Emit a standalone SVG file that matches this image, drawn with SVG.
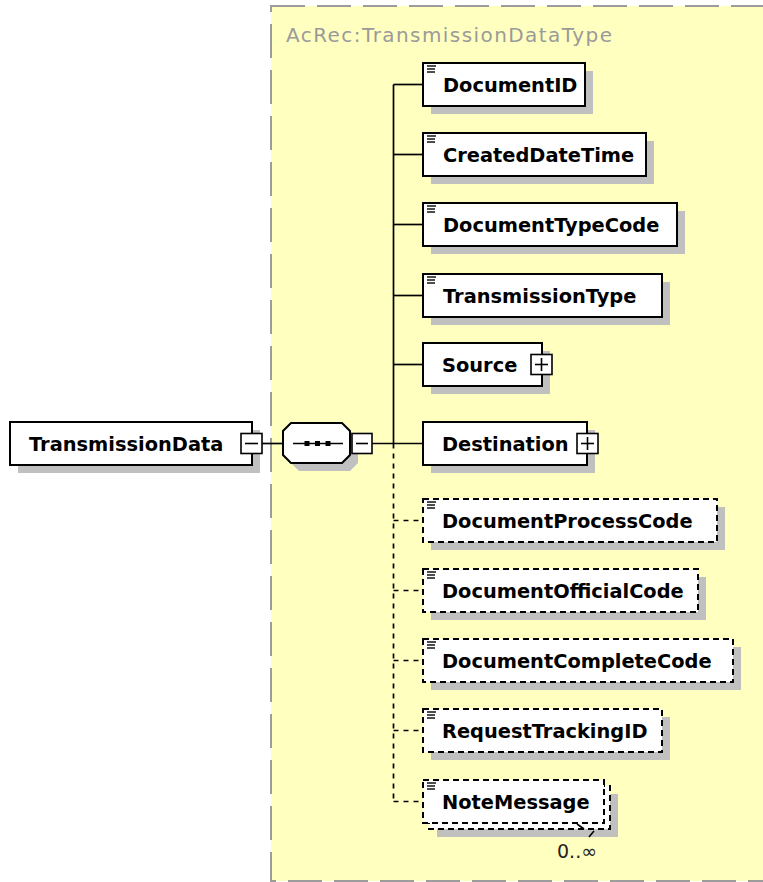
<svg xmlns="http://www.w3.org/2000/svg" xmlns:xlink="http://www.w3.org/1999/xlink" width="763" height="882" viewBox="0 0 763 882">
<defs>
<style>
.bg{fill:#ffffc0;stroke:#9c9c9c;stroke-width:2;stroke-dasharray:34 12}
.title{font-family:"DejaVu Sans",Verdana,sans-serif;font-size:20px;fill:#9a9a9a}
.box{fill:#fff;stroke:#000;stroke-width:2}
.opt{stroke-dasharray:6 4}
.sh{fill:#c0c0c0}
.lbl{font-family:"DejaVu Sans",Verdana,sans-serif;font-weight:bold;font-size:19.4px;fill:#000}
.occ{font-family:"DejaVu Sans",Verdana,sans-serif;font-size:19px;fill:#222}
.conn{stroke:#000;stroke-width:1.7;fill:none}
.dsh{stroke-dasharray:5 5}
.btn{fill:#fff;stroke:#000;stroke-width:1.6}
.sym{stroke:#000;stroke-width:1.6;fill:none}
</style>
<g id="ico" stroke="#000" stroke-width="1.4">
<line x1="0" y1="0" x2="9" y2="0"/>
<line x1="0" y1="3" x2="8" y2="3"/>
<line x1="0" y1="6" x2="8" y2="6"/>
</g>
</defs>

<g id="complexType">
<rect class="bg" x="271" y="6" width="600" height="875"/>
<text class="title" x="286" y="42" textLength="326" lengthAdjust="spacing">AcRec:TransmissionDataType</text>
</g>

<g id="connectors">
<line class="conn" x1="262" y1="443.5" x2="283" y2="443.5"/>
<line class="conn" x1="372" y1="443.5" x2="423" y2="443.5"/>
<line class="conn" x1="393.5" y1="84.5" x2="393.5" y2="443.5"/>
<line class="conn dsh" x1="393.5" y1="443.5" x2="393.5" y2="801.5"/>
<line class="conn" x1="393.5" y1="84.5" x2="423" y2="84.5"/>
<line class="conn" x1="393.5" y1="154.5" x2="423" y2="154.5"/>
<line class="conn" x1="393.5" y1="224.5" x2="423" y2="224.5"/>
<line class="conn" x1="393.5" y1="295.5" x2="423" y2="295.5"/>
<line class="conn" x1="393.5" y1="364.5" x2="423" y2="364.5"/>
<line class="conn dsh" x1="393.5" y1="520.5" x2="423" y2="520.5"/>
<line class="conn dsh" x1="393.5" y1="590.5" x2="423" y2="590.5"/>
<line class="conn dsh" x1="393.5" y1="660.5" x2="423" y2="660.5"/>
<line class="conn dsh" x1="393.5" y1="730.5" x2="423" y2="730.5"/>
<line class="conn dsh" x1="393.5" y1="801.5" x2="423" y2="801.5"/>
</g>

<g id="TransmissionData">
<rect class="sh" x="18" y="430" width="242" height="43"/>
<rect class="box" x="10" y="422" width="242" height="43"/>
<text class="lbl" x="29" y="450.5">TransmissionData</text>
<rect class="btn" x="241" y="433.5" width="21" height="20"/>
<line class="sym" x1="245" y1="443.5" x2="258" y2="443.5"/>
</g>

<g id="sequence">
<polygon class="sh" points="299,431 350,431 358,439 358,463 350,471 299,471 291,463 291,439"/>
<polygon class="box" points="291,423 342,423 350,431 350,455 342,463 291,463 283,455 283,431"/>
<line class="sym" x1="293" y1="443.5" x2="343" y2="443.5"/>
<rect x="304.5" y="441" width="5" height="5" fill="#000"/>
<rect x="315" y="441" width="5" height="5" fill="#000"/>
<rect x="325.5" y="441" width="5" height="5" fill="#000"/>
<rect class="btn" x="352" y="433.5" width="20" height="20"/>
<line class="sym" x1="356" y1="443.5" x2="368" y2="443.5"/>
</g>

<g id="DocumentID">
<rect class="sh" x="431" y="71" width="162" height="43"/>
<rect class="box" x="423" y="63" width="162" height="43"/>
<use xlink:href="#ico" x="427" y="66"/>
<text class="lbl" x="443" y="92">DocumentID</text>
</g>

<g id="CreatedDateTime">
<rect class="sh" x="431" y="141" width="223" height="43"/>
<rect class="box" x="423" y="133" width="223" height="43"/>
<use xlink:href="#ico" x="427" y="136"/>
<text class="lbl" x="443" y="162">CreatedDateTime</text>
</g>

<g id="DocumentTypeCode">
<rect class="sh" x="431" y="211" width="254" height="43"/>
<rect class="box" x="423" y="203" width="254" height="43"/>
<use xlink:href="#ico" x="427" y="206"/>
<text class="lbl" x="443" y="232">DocumentTypeCode</text>
</g>

<g id="TransmissionType">
<rect class="sh" x="431" y="282" width="239" height="43"/>
<rect class="box" x="423" y="274" width="239" height="43"/>
<use xlink:href="#ico" x="427" y="277"/>
<text class="lbl" x="443" y="303">TransmissionType</text>
</g>

<g id="Source">
<rect class="sh" x="431" y="351" width="119" height="43"/>
<rect class="box" x="423" y="343" width="119" height="43"/>
<text class="lbl" x="442" y="372">Source</text>
<rect class="btn" x="531" y="354.5" width="21" height="20"/>
<line class="sym" x1="535" y1="364.5" x2="548" y2="364.5"/>
<line class="sym" x1="541.5" y1="358" x2="541.5" y2="371"/>
</g>

<g id="Destination">
<rect class="sh" x="431" y="430" width="164" height="43"/>
<rect class="box" x="423" y="422" width="164" height="43"/>
<text class="lbl" x="442" y="451">Destination</text>
<rect class="btn" x="577" y="433.5" width="21" height="20"/>
<line class="sym" x1="581" y1="443.5" x2="594" y2="443.5"/>
<line class="sym" x1="587.5" y1="437" x2="587.5" y2="450"/>
</g>

<g id="DocumentProcessCode">
<rect class="sh" x="431" y="507" width="294" height="43"/>
<rect class="box opt" x="423" y="499" width="294" height="43"/>
<use xlink:href="#ico" x="427" y="502"/>
<text class="lbl" x="442" y="528">DocumentProcessCode</text>
</g>

<g id="DocumentOfficialCode">
<rect class="sh" x="431" y="577" width="275" height="43"/>
<rect class="box opt" x="423" y="569" width="275" height="43"/>
<use xlink:href="#ico" x="427" y="572"/>
<text class="lbl" x="442" y="598">DocumentOfficialCode</text>
</g>

<g id="DocumentCompleteCode">
<rect class="sh" x="431" y="647" width="310" height="43"/>
<rect class="box opt" x="423" y="639" width="310" height="43"/>
<use xlink:href="#ico" x="427" y="642"/>
<text class="lbl" x="442" y="668">DocumentCompleteCode</text>
</g>

<g id="RequestTrackingID">
<rect class="sh" x="431" y="717" width="239" height="43"/>
<rect class="box opt" x="423" y="709" width="239" height="43"/>
<use xlink:href="#ico" x="427" y="712"/>
<text class="lbl" x="442" y="738">RequestTrackingID</text>
</g>

<g id="NoteMessage">
<rect class="sh" x="437" y="794" width="181" height="43"/>
<rect class="box opt" x="429" y="786" width="181" height="43"/>
<rect class="box opt" x="423" y="780" width="181" height="43"/>
<use xlink:href="#ico" x="427" y="783"/>
<text class="lbl" x="442" y="809">NoteMessage</text>
<path class="sym" d="M577,824 L584,829 M589,837 L594,831" stroke-width="1.3"/>
<text class="occ" x="557" y="858">0..∞</text>
</g>
</svg>
